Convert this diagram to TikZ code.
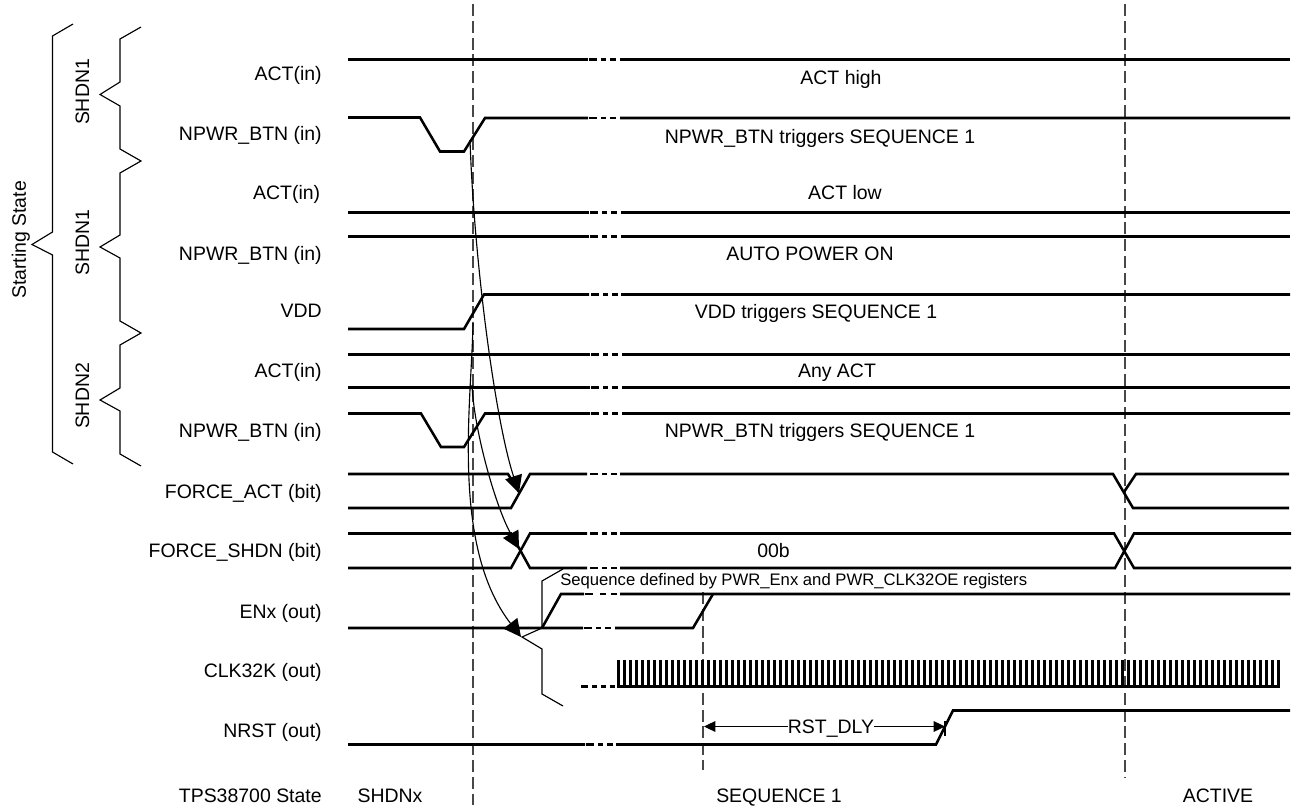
\documentclass[tikz,border=0pt]{standalone}
\usepackage{fontspec}
\setmainfont{Liberation Sans}
\usetikzlibrary{arrows.meta}
\newcommand{\brk}[2]{%
  \draw[wave] (#1+2,#2) -- (#1+10,#2) (#1+14,#2) -- (#1+19,#2) (#1+23,#2) -- (#1+29,#2);}
\tikzset{
  wave/.style={line width=1.9pt,line join=miter},
  thin line/.style={line width=0.85pt,black},
  guide/.style={line width=1.1pt,black!72,dash pattern=on 9pt off 3.6pt},
  lbl/.style={font=\fontsize{14.6}{17}\selectfont,inner sep=0pt,anchor=base east},
  txt/.style={font=\fontsize{14.6}{17}\selectfont,inner sep=0pt,anchor=base},
  small/.style={font=\fontsize{12.5}{15}\selectfont,inner sep=0pt,anchor=base west},
  rot/.style={font=\fontsize{14.6}{17}\selectfont,inner sep=0pt,anchor=base,rotate=90},
  head/.style={-{Triangle[length=13pt,width=13pt]},line width=0.85pt},
  dim/.style={{Triangle[length=8.5pt,width=8pt]}-,line width=0.85pt}
}
\begin{document}
\begin{tikzpicture}[x=0.75pt,y=-0.75pt]
\useasboundingbox (0,0) rectangle (1296,809);
% guides
\draw[guide] (473,4) -- (473,805);
\draw[guide] (1125,4) -- (1125,778);
\draw[guide] (703,592) -- (703,770);
% braces
\draw[thin line] (73,24) -- (52.5,36) -- (52.5,232) -- (32,244.5) -- (52.5,255) -- (52.5,452) -- (73,464);
\draw[thin line] (141,27) -- (120,39) -- (120,82) -- (100,94.5) -- (120,106) -- (120,149) -- (141,161) -- (120,173) -- (120,235) -- (100,247) -- (120,258) -- (120,321) -- (141,333) -- (120,345) -- (120,388) -- (100,400) -- (120,411) -- (120,454) -- (141,466);
\draw[thin line] (563,569) -- (542,581) -- (542,628) -- (522,637) -- (542,649) -- (542,694) -- (563,706);
% waveforms
\draw[wave] (348,59.5) -- (588,59.5) (620,59.5) -- (1290,59.5); \brk{587}{59.5}
\draw[wave] (348,117.5) -- (420,117.5) -- (440,151.5) -- (464,151.5) -- (485,118) -- (588,118) (620,118) -- (1290,118); \brk{587}{118}
\draw[wave] (348,212.5) -- (589,212.5) (621,212.5) -- (1290,212.5); \brk{588}{212.5}
\draw[wave] (348,236.5) -- (589,236.5) (621,236.5) -- (1290,236.5); \brk{588}{236.5}
\draw[wave] (348,329) -- (464,329) -- (484,294.5) -- (589,294.5) (621,294.5) -- (1290,294.5); \brk{589}{294.5}
\draw[wave] (348,354.5) -- (590,354.5) (622,354.5) -- (1290,354.5); \brk{589}{354.5}
\draw[wave] (348,387.5) -- (590,387.5) (622,387.5) -- (1290,387.5); \brk{589}{387.5}
\draw[wave] (348,413.5) -- (421,413.5) -- (441,447) -- (464,447) -- (485,413.5) -- (590,413.5) (622,413.5) -- (1290,413.5); \brk{589}{413.5}
% FORCE_ACT
\draw[wave] (348,474) -- (508,474) -- (519,492);
\draw[wave] (348,508) -- (511,508) -- (530,474) -- (587,474) (620,474) -- (1113,474) -- (1133,508) -- (1289,508);
\draw[wave] (1124,492) -- (1136,474) -- (1289,474); \brk{588}{474}
% FORCE_SHDN
\draw[wave] (348,533.5) -- (511,533.5) -- (530,568) -- (587,568) (620,568) -- (1115,568) -- (1134,533.5) -- (1291,533.5);
\draw[wave] (348,568) -- (511,568) -- (530,533.5) -- (587,533.5) (620,533.5) -- (1114,533.5) -- (1134,568) -- (1291,568);
\brk{588}{533.5} \brk{588}{568}
% ENx
\draw[wave] (348,628) -- (583,628) (615,628) -- (693,628) -- (713,594);
\brk{582}{628}
\draw[wave] (542,628) -- (561,594) -- (584,594) (620,594) -- (1290,594);
\draw[wave] (585,594) -- (593,594) (600,594) -- (606,594) (611,594) -- (617,594);
% CLK32K
\draw[wave] (581,686.5) -- (588,686.5) (592,686.5) -- (597,686.5) (601,686.5) -- (606,686.5) (610,686.5) -- (615,686.5);
\draw[wave] (617,686.5) -- (1280,686.5);
\foreach \t in {0,...,110} \draw[line width=2.6pt] ({618.5+6*\t},660) -- ({618.5+6*\t},686.5);
% NRST
\draw[wave] (348,744.5) -- (585,744.5) (616,744.5) -- (936,744.5) -- (953,710.5) -- (1290,710.5); \brk{584}{744.5}
% curves
\coordinate (c1s) at (470,140); \coordinate (c1e) at (519,493);
\coordinate (c2s) at (472,385); \coordinate (c2e) at (519,549);
\coordinate (c3s) at (473,322); \coordinate (c3e) at (521,637);
\draw[head] (c1s) .. controls (474,260) and (495,420) .. (c1e);
\draw[head] (c2s) .. controls (474,430) and (495,505) .. (c2e);
\draw[head] (c3s) .. controls (472,400) and (450,545) .. (c3e);
% labels
\node[lbl] (l1) at (322,81) {ACT(in)};
\node[lbl] (l2) at (322,141) {NPWR\_BTN (in)};
\node[lbl] (l3) at (320.5,200) {ACT(in)};
\node[lbl] (l4) at (322,261) {NPWR\_BTN (in)};
\node[lbl] (l5) at (322,318) {VDD};
\node[lbl] (l6) at (322,378) {ACT(in)};
\node[lbl] (l7) at (322,437) {NPWR\_BTN (in)};
\node[lbl] (l8) at (322,498) {FORCE\_ACT (bit)};
\node[lbl] (l9) at (322,557) {FORCE\_SHDN (bit)};
\node[lbl] (l10) at (322,618) {ENx (out)};
\node[lbl] (l11) at (322,677) {CLK32K (out)};
\node[lbl] (l12) at (322,737) {NRST (out)};
\node[lbl] (l13) at (322,802.5) {TPS38700 State};
\node[txt] (s1) at (390,802.5) {SHDNx};
\node[txt] (s2) at (779,802.5) {SEQUENCE 1};
\node[txt] (s3) at (1218,802.5) {ACTIVE};
\node[txt] (t1) at (841,85) {ACT high};
\node[txt] (t2) at (820,144) {NPWR\_BTN triggers SEQUENCE 1};
\node[txt] (t3) at (845,200) {ACT low};
\node[txt] (t4) at (810,261) {AUTO POWER ON};
\node[txt] (t5) at (816,319) {VDD triggers SEQUENCE 1};
\node[txt] (t6) at (837,378) {Any ACT};
\node[txt] (t7) at (820,437) {NPWR\_BTN triggers SEQUENCE 1};
\node[txt] (t8) at (773.5,557) {00b};
\node[small] (t9) at (560,585) {Sequence defined by PWR\_Enx and PWR\_CLK32OE registers};
\node[txt] (rst) at (831,733) {RST\_DLY};
\coordinate (rl) at (704,726.5); \coordinate (rr) at (945,726.5);
\draw[dim] (rl) -- (rl -| rst.west);
\draw[dim] (rr) -- (rr -| rst.east);
\coordinate (tk1) at (945,721); \coordinate (tk2) at (945,736);
\draw[thin line] (tk1) -- (tk2);
\node[rot] (r0) at (26,240) {Starting State};
\node[rot] (r1) at (89,92) {SHDN1};
\node[rot] (r2) at (89,242.5) {SHDN1};
\node[rot] (r3) at (89,396) {SHDN2};
\end{tikzpicture}
\end{document}
